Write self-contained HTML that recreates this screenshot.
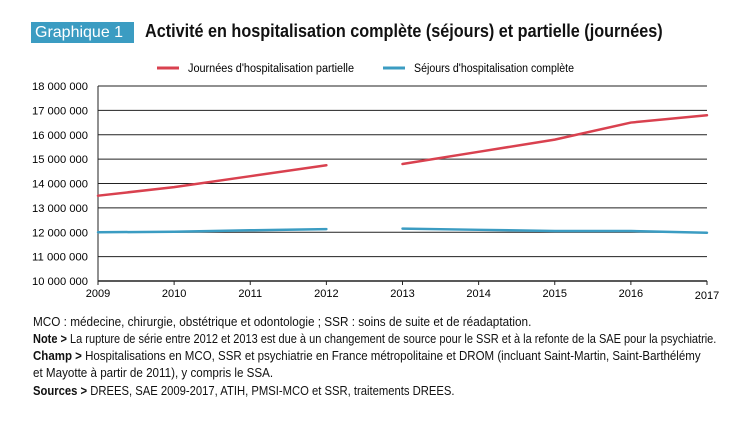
<!DOCTYPE html>
<html><head><meta charset="utf-8"><style>
body{margin:0;width:732px;height:426px;background:#fff;font-family:"Liberation Sans",sans-serif;color:#111;overflow:hidden;position:relative}
.note{position:absolute;left:33px;font-size:12.5px;white-space:nowrap;transform-origin:0 0}
b{font-weight:bold}
</style></head><body>
<div style="position:absolute;left:31px;top:22px;background:#3b9cc2;color:#fff;font-size:16px;padding:1px 4px;line-height:19px;width:95px">Graphique 1</div>
<div style="position:absolute;left:145px;top:21px;font-size:18px;font-weight:bold;line-height:21px;white-space:nowrap;transform:scaleX(0.9);transform-origin:0 0">Activité en hospitalisation complète (séjours) et partielle (journées)</div>
<svg id="c" width="732" height="310" style="position:absolute;left:0;top:0" font-family="Liberation Sans, sans-serif"></svg>
<div class="note" style="top:315px;transform:scaleX(0.94)">MCO : médecine, chirurgie, obstétrique et odontologie ; SSR : soins de suite et de réadaptation.</div>
<div class="note" style="top:332px;transform:scaleX(0.88)"><b>Note &gt;</b> La rupture de série entre 2012 et 2013 est due à un changement de source pour le SSR et à la refonte de la SAE pour la psychiatrie.</div>
<div class="note" style="top:349px;transform:scaleX(0.92)"><b>Champ &gt;</b> Hospitalisations en MCO, SSR et psychiatrie en France métropolitaine et DROM (incluant Saint-Martin, Saint-Barthélémy</div>
<div class="note" style="top:366px;transform:scaleX(0.93)">et Mayotte à partir de 2011), y compris le SSA.</div>
<div class="note" style="top:384px;transform:scaleX(0.9)"><b>Sources &gt;</b> DREES, SAE 2009-2017, ATIH, PMSI-MCO et SSR, traitements DREES.</div>
<script>
const years=[2009,2010,2011,2012,2013,2014,2015,2016,2017];
const partielle=[13.5,13.85,14.3,14.75,14.8,15.3,15.8,16.5,16.8];
const complete=[12.0,12.02,12.08,12.13,12.15,12.1,12.05,12.05,11.98];
const yTicks=[10,11,12,13,14,15,16,17,18];
const yTickLabels=["10 000 000","11 000 000","12 000 000","13 000 000","14 000 000","15 000 000","16 000 000","17 000 000","18 000 000"];
const NS="http://www.w3.org/2000/svg",svg=document.getElementById('c');
const X0=98,X1=707,Y0=281,Y1=86;
const x=i=>X0+(X1-X0)*i/(years.length-1);
const y=v=>Y0-(v-10)/8*(Y0-Y1);
function mk(t,a){const e=document.createElementNS(NS,t);for(const k in a)e.setAttribute(k,a[k]);svg.appendChild(e);return e;}
yTicks.forEach((v,i)=>{
 const l=mk('line',{x1:X0,x2:X1,y1:y(v),y2:y(v),stroke:'#222','stroke-width':v==10?1.5:1});
 
 
 const t=mk('text',{x:88,y:y(v)+4,'text-anchor':'end','font-size':11,textLength:56,lengthAdjust:'spacingAndGlyphs'});
 t.textContent=yTickLabels[i];
 
 
});
const ax=mk('line',{x1:X0,x2:X0,y1:Y1,y2:Y0,stroke:'#222'});


years.forEach((yr,i)=>{
 const tk=mk('line',{x1:x(i),x2:x(i),y1:Y0,y2:Y0+4,stroke:'#222'});
 
 
 const t=mk('text',{x:x(i),y:i==8?299:297,'text-anchor':'middle','font-size':11});
 t.textContent=yr;
 
 
});
function series(vals,color,name){
 [[0,4],[4,9]].forEach(([a,b])=>{
  const pts=[];for(let i=a;i<b;i++)pts.push(x(i)+','+y(vals[i]));
  const p=mk('polyline',{points:pts.join(' '),fill:'none',stroke:color,'stroke-width':2.5,'stroke-linecap':'round'});
  
  
 });
}
series(complete,'#3b9cc2','series-sejours-complete');
series(partielle,'#d9414f','series-journees-partielle');
function leg(x0,color,label,name,w){
 const l=mk('line',{x1:x0,x2:x0+22,y1:68,y2:68,stroke:color,'stroke-width':3});
 
 
 const t=mk('text',{x:x0+31,y:72,'font-size':11.5,textLength:w,lengthAdjust:'spacingAndGlyphs'});
 t.textContent=label;
 
 
}
leg(157,'#d9414f',"Journées d'hospitalisation partielle",'legend-entry-partielle',166);
leg(383,'#3b9cc2',"Séjours d'hospitalisation complète",'legend-entry-complete',160);
</script>
</body></html>
